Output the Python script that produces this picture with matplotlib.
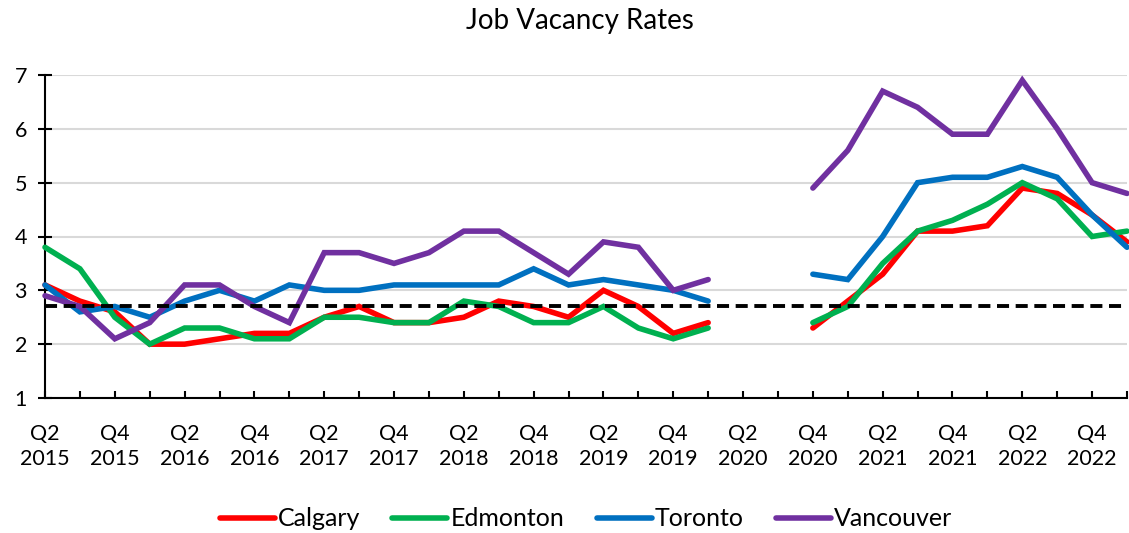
import numpy as np
import matplotlib
matplotlib.use("Agg")
import matplotlib.pyplot as plt

nan = np.nan
quarters = ["Q2 2015", "Q3 2015", "Q4 2015", "Q1 2016", "Q2 2016", "Q3 2016", "Q4 2016", "Q1 2017",
            "Q2 2017", "Q3 2017", "Q4 2017", "Q1 2018", "Q2 2018", "Q3 2018", "Q4 2018", "Q1 2019",
            "Q2 2019", "Q3 2019", "Q4 2019", "Q1 2020", "Q2 2020", "Q3 2020", "Q4 2020", "Q1 2021",
            "Q2 2021", "Q3 2021", "Q4 2021", "Q1 2022", "Q2 2022", "Q3 2022", "Q4 2022", "Q1 2023"]

calgary = [3.1, 2.8, 2.6, 2.0, 2.0, 2.1, 2.2, 2.2, 2.5, 2.7, 2.4, 2.4, 2.5, 2.8, 2.7, 2.5,
           3.0, 2.7, 2.2, 2.4, nan, nan, 2.3, 2.8, 3.3, 4.1, 4.1, 4.2, 4.9, 4.8, 4.4, 3.9]
edmonton = [3.8, 3.4, 2.5, 2.0, 2.3, 2.3, 2.1, 2.1, 2.5, 2.5, 2.4, 2.4, 2.8, 2.7, 2.4, 2.4,
            2.7, 2.3, 2.1, 2.3, nan, nan, 2.4, 2.7, 3.5, 4.1, 4.3, 4.6, 5.0, 4.7, 4.0, 4.1]
toronto = [3.1, 2.6, 2.7, 2.5, 2.8, 3.0, 2.8, 3.1, 3.0, 3.0, 3.1, 3.1, 3.1, 3.1, 3.4, 3.1,
           3.2, 3.1, 3.0, 2.8, nan, nan, 3.3, 3.2, 4.0, 5.0, 5.1, 5.1, 5.3, 5.1, 4.4, 3.8]
vancouver = [2.9, 2.7, 2.1, 2.4, 3.1, 3.1, 2.7, 2.4, 3.7, 3.7, 3.5, 3.7, 4.1, 4.1, 3.7, 3.3,
             3.9, 3.8, 3.0, 3.2, nan, nan, 4.9, 5.6, 6.7, 6.4, 5.9, 5.9, 6.9, 6.0, 5.0, 4.8]
reference_level = 2.7

series = [("Calgary", calgary, "#FF0000"),
          ("Edmonton", edmonton, "#00B050"),
          ("Toronto", toronto, "#0070C0"),
          ("Vancouver", vancouver, "#7030A0")]

plt.rcParams['font.family'] = ['Lato', 'DejaVu Sans']

W, H = 1129, 533
fig = plt.figure(figsize=(W / 100, H / 100), dpi=100)
ax = fig.add_axes([45 / W, 1 - 398 / H, (1127 - 45) / W, (398 - 75) / H])

x = np.arange(len(quarters))
for name, vals, col in series:
    ax.plot(x, vals, color=col, lw=4.0, label=name, solid_capstyle='round', solid_joinstyle='miter',
            clip_on=False, zorder=3)

ax.axhline(reference_level, color='black', lw=2.8, dashes=(3.1, 1.7), zorder=4)

ax.set_xlim(0, len(quarters) - 1)
ax.set_ylim(1, 7)
ax.set_yticks(range(1, 8))
ax.yaxis.grid(True, color='#D9D9D9', lw=1.5, zorder=0)
ax.set_axisbelow(True)

ax.set_xticks(x)
labels = [q.replace(" ", "\n") if i % 2 == 0 else "" for i, q in enumerate(quarters)]
ax.set_xticklabels(labels, fontsize=15.5, linespacing=1.3)
ax.tick_params(axis='x', direction='in', length=5, width=1.5, pad=19)
ax.tick_params(axis='y', direction='inout', length=10, width=1.5, pad=8, labelsize=15.5)

for s in ['top', 'right']:
    ax.spines[s].set_visible(False)
for s in ['left', 'bottom']:
    ax.spines[s].set_linewidth(1.5)

fig.text(580 / W, 1 - 21 / H, "Job Vacancy Rates", ha='center', va='center', fontsize=20)

fig.legend(loc='center', bbox_to_anchor=(586 / W, 1 - 519 / H), ncol=4, frameon=False,
           fontsize=18, handlelength=2.2, handletextpad=0.12, columnspacing=1.3)

fig.savefig("out.png", dpi=100)
